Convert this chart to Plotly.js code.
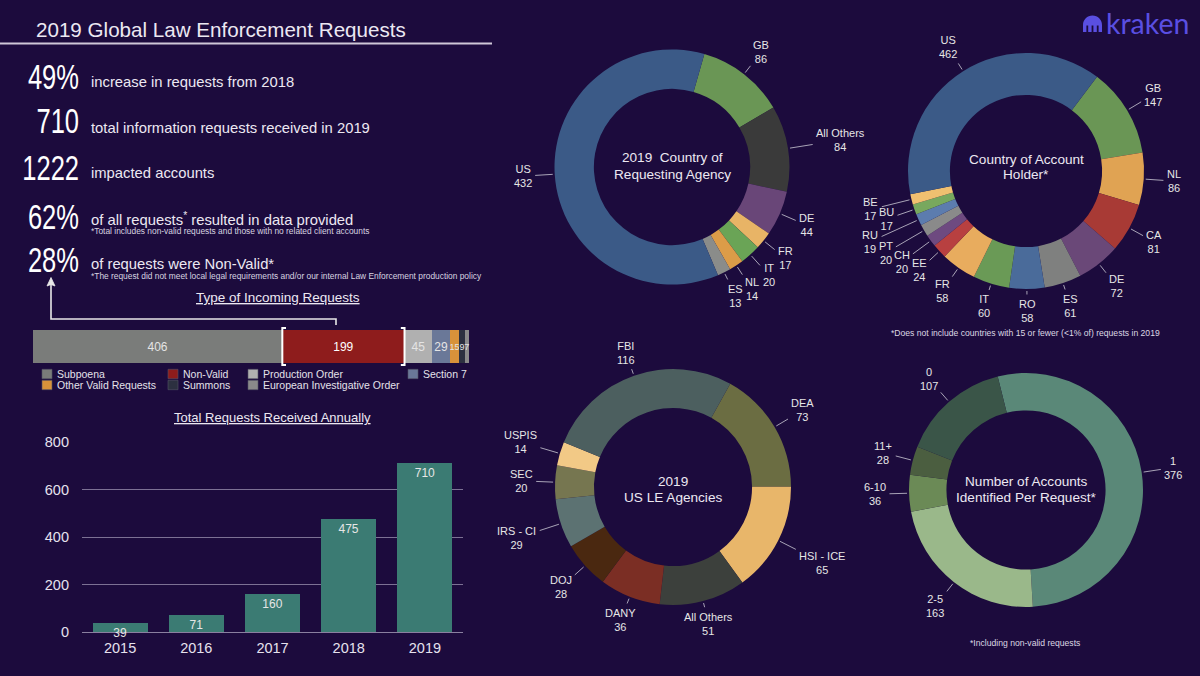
<!DOCTYPE html>
<html><head><meta charset="utf-8">
<script src="https://cdn.plot.ly/plotly-3.0.1.min.js"></script>
<style>html,body{margin:0;padding:0;background:#1c0b3d;}#chart{width:1200px;height:676px;}</style>
</head><body><div id="chart"></div>
<script>
// ---------------- DATA ----------------
const statValues = ['49%', '710', '1222', '62%', '28%'];
const statLabels = [
  'increase in requests from 2018',
  'total information requests received in 2019',
  'impacted accounts',
  'of all requests<sup>*</sup> resulted in data provided',
  'of requests were Non-Valid*'
];
const statNotes = [
  '', '', '',
  '*Total includes non-valid requests and those with no related client accounts',
  '*The request did not meet local legal requirements and/or our internal Law Enforcement production policy'
];

const requestTypes = ['Subpoena', 'Non-Valid', 'Production Order', 'Section 7', 'Other Valid Requests', 'Summons', 'European Investigative Order'];
const requestCounts = [406, 199, 45, 29, 15, 9, 7];

const years = ['2015', '2016', '2017', '2018', '2019'];
const annualTotals = [39, 71, 160, 475, 710];
const yTicks = [0, 200, 400, 600, 800];

const agencyCountries = ['GB', 'All Others', 'DE', 'FR', 'IT', 'NL', 'ES', 'US'];
const agencyCountryCounts = [86, 84, 44, 17, 20, 14, 13, 432];

const holderCountries = ['GB', 'NL', 'CA', 'DE', 'ES', 'RO', 'IT', 'FR', 'EE', 'CH', 'PT', 'RU', 'BU', 'BE', 'US'];
const holderCounts = [147, 86, 81, 72, 61, 58, 60, 58, 24, 20, 20, 19, 17, 17, 462];

const usAgencies = ['DEA', 'HSI - ICE', 'All Others', 'DANY', 'DOJ', 'IRS - CI', 'SEC', 'USPIS', 'FBI'];
const usAgencyCounts = [73, 65, 51, 36, 28, 29, 20, 14, 116];

const accountBuckets = ['1', '2-5', '6-10', '11+', '0'];
const accountBucketCounts = [376, 163, 36, 28, 107];

const donutTitles = [
  ['2019  Country of', 'Requesting Agency'],
  ['Country of Account', 'Holder*'],
  ['2019', 'US LE Agencies'],
  ['Number of Accounts', 'Identified Per Request*']
];

// ---------------- STYLE ----------------
const BG = '#1c0b3d';
const TXT = '#ece8f2';
const FONT = 'Liberation Sans, Arial, Helvetica, sans-serif';
const requestColors = ['#7a7c7a', '#8e1c1c', '#b0b0b0', '#6a7898', '#d8923a', '#2c3040', '#8a8a8a'];
const agencyCountryColors = ['#6a9655', '#3a3a3a', '#694678', '#e8b466', '#6aa456', '#dc9c48', '#8a8c8a', '#3b5a87'];
const holderColors = ['#6a9655', '#e0a353', '#a83a35', '#6a4878', '#7f807f', '#4a6b9a', '#6a9a56', '#e8ac5e', '#b84040', '#6e4a80', '#8a8a8a', '#5c7cae', '#78a85e', '#f0c070', '#3b5a87'];
const usAgencyColors = ['#6b6d42', '#e8b66a', '#3c403c', '#7b2e24', '#4a2810', '#5c7272', '#767650', '#f2c986', '#4c5f5f'];
const bucketColors = ['#5a8878', '#9ab88a', '#6b8a56', '#4b5e40', '#3a5548'];

const W = 1200, H = 676;
const px = x => x / W;
const py = y => 1 - y / H;
const dom = (cx, cy, r) => ({x: [px(cx - r), px(cx + r)], y: [py(cy + r), py(cy - r)]});

// ---------------- TRACES ----------------
const traces = [];

traces.push({
  type: 'bar', x: years, y: annualTotals, xaxis: 'x', yaxis: 'y',
  marker: {color: '#3b7b73'},
  text: annualTotals.map(String), textposition: 'inside', insidetextanchor: 'end',
  textangle: 0, constraintext: 'none', cliponaxis: false,
  textfont: {size: 12, color: '#e6e6e6', family: FONT},
  hoverinfo: 'skip', showlegend: false
});

const totalRequests = requestCounts.reduce((a, b) => a + b, 0);
requestTypes.forEach((name, i) => {
  traces.push({
    type: 'bar', orientation: 'h', name: name,
    y: ['Requests'], x: [requestCounts[i]], width: [1],
    xaxis: 'x2', yaxis: 'y2',
    marker: {color: requestColors[i], line: {width: 0}},
    text: [String(requestCounts[i])], textposition: 'inside', insidetextanchor: 'middle',
    textangle: 0, constraintext: 'none', cliponaxis: false,
    textfont: {size: requestCounts[i] < 20 ? 9 : 12, color: i === 1 ? '#ffffff' : '#e4e4e4', family: FONT},
    hoverinfo: 'skip', showlegend: false
  });
});

const donuts = [
  {labels: agencyCountries, values: agencyCountryCounts, colors: agencyCountryColors, rot: 16, cx: 672, cy: 167, r: 117.5, hole: 0.665, ty: [158, 175]},
  {labels: holderCountries, values: holderCounts, colors: holderColors, rot: 37, cx: 1026, cy: 171, r: 118, hole: 0.645, ty: [159, 174]},
  {labels: usAgencies, values: usAgencyCounts, colors: usAgencyColors, rot: 29, cx: 673, cy: 487, r: 118, hole: 0.67, ty: [481, 497]},
  {labels: accountBuckets, values: accountBucketCounts, colors: bucketColors, rot: -14, cx: 1026, cy: 490, r: 117, hole: 0.68, ty: [481, 497]}
];
donuts.forEach(d => {
  traces.push({
    type: 'pie', labels: d.labels, values: d.values, sort: false, direction: 'clockwise',
    rotation: d.rot, hole: d.hole, domain: dom(d.cx, d.cy, d.r),
    marker: {colors: d.colors, line: {width: 0}},
    textinfo: 'none', hoverinfo: 'skip', showlegend: false, automargin: false
  });
});

// ---------------- ANNOTATIONS ----------------
const annotations = [];
function ann(x, y, text, size, o) {
  annotations.push(Object.assign({
    xref: 'paper', yref: 'paper', x: px(x), y: py(y), text: text, showarrow: false,
    xanchor: 'left', yanchor: 'middle',
    font: {size: size, color: TXT, family: FONT}
  }, o || {}));
}
ann(34, 29, '2019 Global Law Enforcement Requests', 20.6);

const statY = [76, 121, 167, 216, 259];
const labelY = [82, 128, 173, 219, 264];
statValues.forEach((v, i) => {
  ann(81, statY[i], v, 36, {xanchor: 'right', font: {size: 36, color: '#ffffff', family: FONT}});
  ann(89, labelY[i], statLabels[i], 14.8);
  if (statNotes[i]) ann(89, labelY[i] + 12, statNotes[i], 8.4, {font: {size: 8.4, color: '#d8d4e0', family: FONT}});
});

ann(278, 298, '<u>Type of Incoming Requests</u>', 13.5, {xanchor: 'center'});
ann(272, 417, '<u>Total Requests Received Annually</u>', 13, {xanchor: 'center'});

// legend (manual, 4 columns x 2 rows as in the reference)
const legendCol = [0, 1, 2, 3, 0, 1, 2];
const legendRow = [0, 0, 0, 0, 1, 1, 1];
const colX = [42, 168, 248, 408];
const rowY = [374, 385];
const shapes = [];
requestTypes.forEach((name, i) => {
  const x = colX[legendCol[i]], y = rowY[legendRow[i]];
  shapes.push({type: 'rect', xref: 'paper', yref: 'paper', x0: px(x), x1: px(x + 10), y0: py(y + 4.7), y1: py(y - 4.7),
    fillcolor: requestColors[i], line: {width: 0.6, color: '#555566'}});
  ann(x + 13, y, name, 10.5, {font: {size: 10.5, color: '#e4e2ea', family: FONT}});
});

// donut centre titles
donuts.forEach((d, k) => {
  donutTitles[k].forEach((line, j) => ann(d.cx, d.ty[j], line, 13.6, {xanchor: 'center'}));
});

// donut outside labels with leader lines, placed at each slice's mid-angle
function charW(ch) {
  if (/[A-Z]/.test(ch)) return 7.3;
  if (/[0-9a-z]/.test(ch)) return 6.1;
  if (ch === ' ') return 3.1;
  return 3.8;
}
const textW = s => s.split('').reduce((a, c) => a + charW(c), 0);
donuts.forEach(d => {
  const total = d.values.reduce((a, b) => a + b, 0);
  let a = d.rot;
  const placed = [];
  d.values.forEach((v, i) => {
    const start = a;
    a += v / total * 360;
    const mid = (start + a) / 2 * Math.PI / 180;
    const dx = Math.sin(mid), dy = -Math.cos(mid);
    const hw = Math.max(textW(d.labels[i]), textW(String(v))) / 2 + 2;
    const hh = 14;
    const ext = Math.min(Math.abs(dx) > 1e-6 ? hw / Math.abs(dx) : 1e9, Math.abs(dy) > 1e-6 ? hh / Math.abs(dy) : 1e9);
    const tipR = d.r + 2;
    const gap = 8 + 13 * dx * dx;
    let Dc = d.r + gap + ext;
    let box;
    for (let k = 0; k < 25; k++) {
      const cxl = d.cx + dx * Dc, cyl = d.cy + dy * Dc;
      box = [cxl - hw + 2, cxl + hw - 2, cyl - hh + 2, cyl + hh - 2];
      const hit = placed.some(b => !(box[1] < b[0] || box[0] > b[1] || box[3] < b[2] || box[2] > b[3]));
      if (!hit) break;
      Dc += 4;
    }
    placed.push(box);
    annotations.push({
      xref: 'paper', yref: 'paper', x: px(d.cx + dx * tipR), y: py(d.cy + dy * tipR),
      ax: dx * (Dc - tipR), ay: dy * (Dc - tipR),
      text: d.labels[i] + '<br>' + v, showarrow: true, arrowhead: 0, arrowwidth: 0.9,
      arrowcolor: '#b8b4c4', standoff: 0, startstandoff: 2,
      font: {size: 11, color: '#e6e6e6', family: FONT}, align: 'center'
    });
  });
});

// footnotes
ann(1025, 333, '*Does not include countries with 15 or fewer (<1% of) requests in 2019', 8.6, {xanchor: 'center', font: {size: 8.6, color: '#dcd8e4', family: FONT}});
ann(1025, 643, '*Including non-valid requests', 8.6, {xanchor: 'center', font: {size: 8.6, color: '#dcd8e4', family: FONT}});

// kraken logo text
ann(1104, 23, 'kraken', 28.5, {font: {size: 28.5, color: '#5a4fe2', family: 'Lato, Inter, sans-serif'}});

// ---------------- SHAPES ----------------
const P = (x, y) => px(x) + ',' + py(y);
shapes.push({type: 'line', xref: 'paper', yref: 'paper', x0: 0, x1: px(492), y0: py(43.5), y1: py(43.5), line: {color: '#cfc8d8', width: 2}});
// connector from the 28% figure to the Non-Valid segment, with arrow head
shapes.push({type: 'path', xref: 'paper', yref: 'paper',
  path: 'M' + P(51, 284) + ' L' + P(51, 319) + ' L' + P(336, 319) + ' L' + P(336, 325),
  line: {color: '#e8e8e8', width: 1.6}});
shapes.push({type: 'path', xref: 'paper', yref: 'paper',
  path: 'M' + P(51, 277.5) + ' L' + P(55, 286) + ' L' + P(51, 284.5) + ' L' + P(47, 286) + ' Z',
  fillcolor: '#e8e8e8', line: {color: '#e8e8e8', width: 0.8}});
const nvStart = requestCounts[0], nvEnd = requestCounts[0] + requestCounts[1];
const tick = 6;
shapes.push({type: 'path', xref: 'x2', yref: 'paper',
  path: 'M' + (nvStart + tick) + ',' + py(328) + ' L' + nvStart + ',' + py(328) + ' L' + nvStart + ',' + py(365) + ' L' + (nvStart + tick) + ',' + py(365),
  line: {color: '#ffffff', width: 2}});
shapes.push({type: 'path', xref: 'x2', yref: 'paper',
  path: 'M' + (nvEnd - tick) + ',' + py(328) + ' L' + nvEnd + ',' + py(328) + ' L' + nvEnd + ',' + py(365) + ' L' + (nvEnd - tick) + ',' + py(365),
  line: {color: '#ffffff', width: 2}});

(function () {
  const L = 1083, R = 1102, cy = 25, r = (R - L) / 2, cx = (L + R) / 2, yb = 32, k = 0.552;
  const w = 3.4, g = (R - L - 4 * w) / 3, yg = 25.5;
  let d = 'M' + P(L, yb) + ' L' + P(L, cy) +
    ' C' + P(L, cy - k * r) + ' ' + P(cx - k * r, cy - r) + ' ' + P(cx, cy - r) +
    ' C' + P(cx + k * r, cy - r) + ' ' + P(R, cy - k * r) + ' ' + P(R, cy) +
    ' L' + P(R, yb);
  let x = R;
  for (let i = 0; i < 3; i++) {
    x -= w; d += ' L' + P(x, yb) + ' L' + P(x, yg);
    x -= g; d += ' L' + P(x, yg) + ' L' + P(x, yb);
  }
  d += ' Z';
  shapes.push({type: 'path', xref: 'paper', yref: 'paper', path: d, fillcolor: '#5a4fe2', line: {width: 0}});
})();

// ---------------- LAYOUT ----------------
const layout = {
  width: W, height: H, margin: {l: 0, r: 0, t: 0, b: 0},
  paper_bgcolor: BG, plot_bgcolor: 'rgba(0,0,0,0)',
  font: {family: FONT, color: TXT},
  barmode: 'stack', bargap: 0.28, showlegend: false,
  xaxis: {domain: [px(82), px(463)], anchor: 'y', type: 'category', showgrid: false, showline: false, zeroline: false,
    ticks: '', ticklabelstandoff: 5, tickfont: {size: 14.5, color: '#e6e2ee'}, fixedrange: true},
  yaxis: {domain: [py(632), py(442)], anchor: 'x', range: [0, 800], tickvals: yTicks, ticktext: yTicks.map(String),
    showgrid: true, gridcolor: '#7c7194', gridwidth: 1, zeroline: true, zerolinecolor: '#8a80a0', zerolinewidth: 1,
    showline: false, ticks: '', ticklabelstandoff: 12, tickfont: {size: 14.5, color: '#e6e2ee'}, fixedrange: true},
  xaxis2: {domain: [px(33), px(469)], anchor: 'y2', range: [0, totalRequests], visible: false, fixedrange: true},
  yaxis2: {domain: [py(363), py(330)], anchor: 'x2', range: [-0.5, 0.5], visible: false, type: 'category', fixedrange: true},
  annotations: annotations,
  shapes: shapes
};

function condenseStats() {
  document.querySelectorAll('text.annotation-text').forEach(node => {
    if (statValues.indexOf(node.textContent) >= 0) {
      const bb = node.getBBox();
      const rx = bb.x + bb.width;
      node.setAttribute('transform', 'translate(' + rx + ',0) scale(0.71,1) translate(' + (-rx) + ',0)');
    }
  });
}
Plotly.newPlot('chart', traces, layout, {staticPlot: true, displayModeBar: false}).then(condenseStats);
</script></body></html>
